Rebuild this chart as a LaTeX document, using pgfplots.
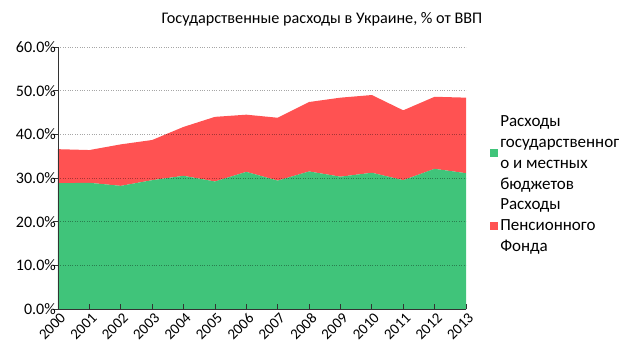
\documentclass[border=0pt]{standalone}
\usepackage{fontspec}
\setmainfont{Carlito}
\usepackage{pgfplots}
\pgfplotsset{compat=1.18}
\definecolor{cgreen}{RGB}{64,196,122}
\definecolor{cred}{RGB}{255,82,82}
\begin{document}
\begin{tikzpicture}
\useasboundingbox (0pt,0pt) rectangle (619pt,364pt);
\node[font=\fontsize{16.2}{19}\selectfont] at (322pt,345pt) {Государственные расходы в Украине, \% от ВВП};
\begin{axis}[
  at={(58pt,55pt)}, anchor=south west,
  scale only axis, width=408pt, height=262pt,
  xmin=2000, xmax=2013, ymin=0, ymax=60,
  xtick={2000,...,2013},
  xticklabels={2000,2001,2002,2003,2004,2005,2006,2007,2008,2009,2010,2011,2012,2013},
  x tick label style={rotate=45, anchor=north east, font=\fontsize{15}{17}\selectfont, inner sep=1pt, yshift=-2pt},
  ytick={0,10,...,60},
  yticklabels={0.0\%,10.0\%,20.0\%,30.0\%,40.0\%,50.0\%,60.0\%},
  y tick label style={font=\fontsize{16}{18}\selectfont, inner sep=2pt},
  tick align=inside,
  tick style={black!80, line width=0.8pt},
  ytick style={xshift=-4.5pt},
  major tick length=4.5pt,
  axis x line*=bottom, axis y line*=left,
  axis line style={black!80, line width=0.9pt},
  ymajorgrids,
  grid style={black, opacity=0.35, dotted, line width=0.9pt},
  axis on top,
  stack plots=y,
  legend style={at={(1.059,0.477)}, anchor=west, draw=none, fill=none,
    font=\fontsize{17}{21}\selectfont, cells={align=left}, row sep=4pt, inner sep=0pt},
  legend cell align=left,
  legend image code/.code={\fill[#1] (0pt,-4pt) rectangle (8pt,4pt);},
]
\addplot[fill=cgreen, draw=none] coordinates {
(2000,28.8) (2001,28.9) (2002,28.2) (2003,29.5) (2004,30.5) (2005,29.2) (2006,31.4)
(2007,29.4) (2008,31.5) (2009,30.3) (2010,31.2) (2011,29.5) (2012,32.1) (2013,31.1)
} \closedcycle;
\addlegendentry{Расходы\\государственног\\о и местных\\бюджетов}
\addplot[fill=cred, draw=none] coordinates {
(2000,7.8) (2001,7.5) (2002,9.5) (2003,9.2) (2004,11.2) (2005,14.8) (2006,13.1)
(2007,14.4) (2008,15.9) (2009,18.1) (2010,17.8) (2011,16.0) (2012,16.5) (2013,17.3)
} \closedcycle;
\addlegendentry{Расходы\\Пенсионного\\Фонда}
\end{axis}
\end{tikzpicture}
\end{document}
